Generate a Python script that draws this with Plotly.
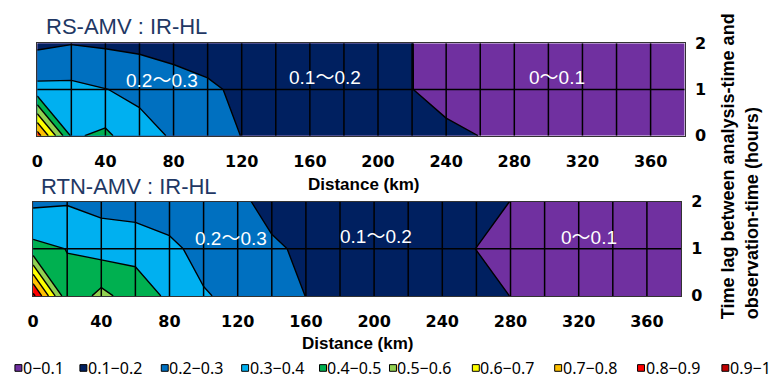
import plotly.graph_objects as go

# ---- data -------------------------------------------------------------
distance_km = [0, 20, 40, 60, 80, 100, 120, 140, 160, 180,
               200, 220, 240, 260, 280, 300, 320, 340, 360, 380]
time_lag_h = [0, 1, 2]

# rows: time lag 0 h, 1 h, 2 h
rs_amv = [
    [0.85, 0.387, 0.42, 0.331, 0.291, 0.25, 0.198, 0.185, 0.17, 0.155,
     0.14, 0.125, 0.108, 0.0995, 0.092, 0.085, 0.08, 0.075, 0.07, 0.065],
    [0.327, 0.3255, 0.302, 0.28, 0.26, 0.225, 0.17, 0.16, 0.15, 0.14,
     0.125, 0.1005, 0.087, 0.08, 0.075, 0.07, 0.065, 0.06, 0.058, 0.055],
    [0.178, 0.196, 0.186, 0.175, 0.149, 0.125, 0.12, 0.115, 0.112, 0.108,
     0.104, 0.1005, 0.085, 0.075, 0.07, 0.065, 0.06, 0.055, 0.052, 0.05],
]
rtn_amv = [
    [0.93, 0.42, 0.53, 0.444, 0.385, 0.31, 0.27, 0.22, 0.1995, 0.18,
     0.16, 0.145, 0.13, 0.115, 0.0995, 0.09, 0.085, 0.08, 0.075, 0.07],
    [0.43, 0.398, 0.36, 0.373, 0.327, 0.26, 0.235, 0.2067, 0.1918, 0.17,
     0.15, 0.13, 0.115, 0.0995, 0.085, 0.08, 0.075, 0.07, 0.065, 0.06],
    [0.28, 0.2915, 0.268, 0.243, 0.23, 0.22, 0.21, 0.185, 0.175, 0.16,
     0.145, 0.13, 0.12, 0.115, 0.0995, 0.09, 0.085, 0.08, 0.075, 0.07],
]

bin_edges = ["0", "0.1", "0.2", "0.3", "0.4", "0.5", "0.6", "0.7", "0.8", "0.9", "1"]
bin_colors = ["#7030A0", "#002060", "#0070C0", "#00B0F0", "#00B050",
              "#92D050", "#FFFF00", "#FFC000", "#FF0000", "#C00000"]
x_ticks = [0, 40, 80, 120, 160, 200, 240, 280, 320, 360]
y_ticks = [0, 1, 2]
grid_x = [20, 40, 60, 80, 100, 120, 140, 160, 180, 200,
          220, 240, 260, 280, 300, 320, 340, 360]

panel_titles = ["RS-AMV : IR-HL", "RTN-AMV : IR-HL"]
band_labels = [
    [("0.2〜0.3", 73, 1.2), ("0.1〜0.2", 169, 1.26), ("0〜0.1", 305, 1.26)],
    [("0.2〜0.3", 116, 1.21), ("0.1〜0.2", 201, 1.27), ("0〜0.1", 326, 1.25)],
]

# ---- figure -----------------------------------------------------------
W, H = 772, 387
n = len(bin_colors)
colorscale = [[k / (n - 1), c] for k, c in enumerate(bin_colors)]

fig = go.Figure()
for z, xa, ya in [(rs_amv, "x", "y"), (rtn_amv, "x2", "y2")]:
    fig.add_trace(go.Contour(
        x=distance_km, y=time_lag_h, z=z, xaxis=xa, yaxis=ya,
        contours=dict(start=0.1, end=0.9, size=0.1, coloring="fill", showlines=True),
        line=dict(color="black", width=1.4, smoothing=0),
        colorscale=colorscale, showscale=False, hoverinfo="skip",
    ))

def px_x(p):
    return p / W

def px_y(p):
    return 1 - p / H

tick_font = dict(family="DejaVu Sans", size=16, color="black", weight="bold")
axis_common = dict(range=[0, 380], tickvals=x_ticks, showgrid=False, zeroline=False,
                   ticks="", tickfont=tick_font, ticklabelstandoff=11,
                   showline=True, mirror=True, linecolor="#333333", linewidth=1)
yaxis_common = dict(range=[0, 2], tickvals=y_ticks, side="right", showgrid=False,
                    zeroline=False, ticks="", tickfont=tick_font, ticklabelstandoff=6,
                    showline=True, mirror=True, linecolor="#333333", linewidth=1)

fig.update_layout(
    width=W, height=H, autosize=False,
    margin=dict(l=0, r=0, t=0, b=0),
    paper_bgcolor="white", plot_bgcolor="white",
    showlegend=False,
    xaxis=dict(axis_common, domain=[px_x(31.5), px_x(684)], anchor="y"),
    yaxis=dict(yaxis_common, domain=[px_y(133.3), px_y(36)], anchor="x"),
    xaxis2=dict(axis_common, domain=[px_x(27.3), px_x(680.3)], anchor="y2"),
    yaxis2=dict(yaxis_common, domain=[px_y(301.7), px_y(202.7)], anchor="x2"),
)

shapes = []
annotations = []
for xr, yr in [("x", "y"), ("x2", "y2")]:
    for gx in grid_x:
        shapes.append(dict(type="line", xref=xr, yref=yr, x0=gx, x1=gx, y0=0, y1=2,
                           line=dict(color="black", width=1.5), layer="above"))
    shapes.append(dict(type="line", xref=xr, yref=yr, x0=0, x1=380, y0=1, y1=1,
                       line=dict(color="black", width=1.5), layer="above"))

# panel titles
for title, (tx, ty) in zip(panel_titles, [(38, 18), (33, 187)]):
    annotations.append(dict(text=title, xref="paper", yref="paper", x=px_x(tx), y=px_y(ty),
                            xanchor="left", yanchor="middle", showarrow=False,
                            font=dict(family="Liberation Sans, Arial", size=22, color="#1F3864")))

# band labels inside the panels
for labels, xr, yr in zip(band_labels, ["x", "x2"], ["y", "y2"]):
    for txt, lx, ly in labels:
        annotations.append(dict(text=txt, xref=xr, yref=yr, x=lx, y=ly, showarrow=False,
                                xanchor="center", yanchor="middle",
                                font=dict(family="Liberation Sans, Noto Sans CJK JP", size=19,
                                          color="white")))

# x-axis titles
for cx, cy in [(360, 185), (354, 352)]:
    annotations.append(dict(text="Distance (km)", xref="paper", yref="paper",
                            x=px_x(cx), y=px_y(cy), showarrow=False,
                            xanchor="center", yanchor="middle",
                            font=dict(family="Liberation Sans, Arial", size=17, color="black",
                                      weight="bold")))

# shared y-axis title on the right
annotations.append(dict(text="Time lag between analysis-time and<br>observation-time (hours)",
                        xref="paper", yref="paper", x=px_x(740), y=px_y(165),
                        xanchor="center", yanchor="middle",
                        textangle=-90, align="left", showarrow=False,
                        font=dict(family="Liberation Sans, Arial", size=18, color="black",
                                  weight="bold")))

# colour key along the bottom
key_centers = [12.5, 78, 160, 241, 319.5, 390, 473.5, 556.5, 640, 725]
key_y = 377.5
for k, (color, cx) in enumerate(zip(bin_colors, key_centers)):
    shapes.append(dict(type="rect", xref="paper", yref="paper",
                       x0=px_x(cx - 3.5), x1=px_x(cx + 3.5),
                       y0=px_y(key_y + 3.5), y1=px_y(key_y - 3.5),
                       fillcolor=color, line=dict(color="black", width=1)))
    annotations.append(dict(text=f"{bin_edges[k]}−{bin_edges[k + 1]}",
                            xref="paper", yref="paper", x=px_x(cx + 2.5), y=px_y(key_y),
                            xanchor="left", yanchor="middle", showarrow=False,
                            font=dict(family="Noto Sans", size=16, color="black")))

fig.update_layout(shapes=shapes, annotations=annotations)
fig.write_html("out.html")
